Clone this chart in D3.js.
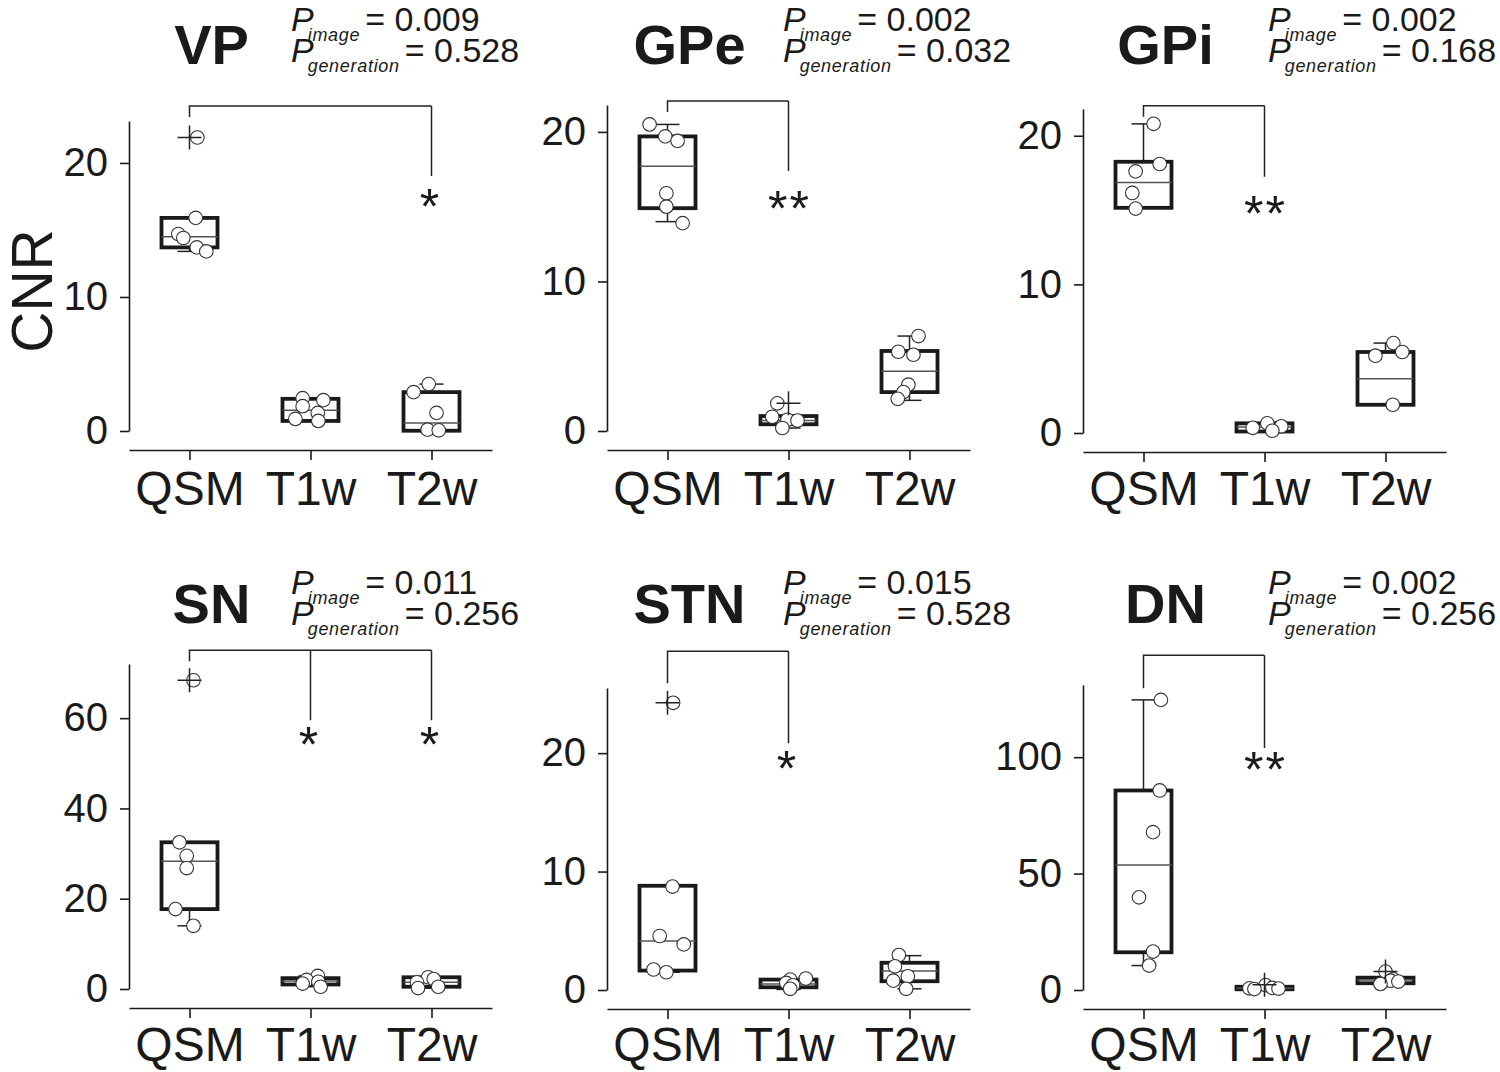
<!DOCTYPE html>
<html><head><meta charset="utf-8">
<script src="https://cdn.jsdelivr.net/npm/d3@7"></script>
<style>body{margin:0;background:#fff}</style>
</head><body><svg id="c" width="1500" height="1072"></svg>
<script>
// ---------------- DATA ----------------
const categories = ["QSM", "T1w", "T2w"];
const regions = ["VP", "GPe", "GPi", "SN", "STN", "DN"];
const pImage = ["0.009", "0.002", "0.002", "0.011", "0.015", "0.002"];
const pGeneration = ["0.528", "0.032", "0.168", "0.256", "0.528", "0.256"];
const yTicks = [[0, 10, 20], [0, 10, 20], [0, 10, 20], [0, 20, 40, 60], [0, 10, 20], [0, 50, 100]];
const yMax = [23.13, 21.8, 21.8, 72, 25.5, 131];

// box statistics per category: [whiskerLow, q1, median, q3, whiskerHigh]
const boxVP  = [[13.4, 13.7, 14.5, 15.9, 15.9], [0.75, 0.75, 1.55, 2.4, 2.4], [0.02, 0.02, 0.6, 2.9, 3.5]];
const boxGPe = [[14.0, 14.9, 17.7, 19.7, 20.5], [0.2, 0.45, 0.7, 1.0, 1.0], [2.05, 2.6, 4.0, 5.35, 6.35]];
const boxGPi = [[15.15, 15.15, 16.85, 18.25, 20.8], [0.1, 0.1, 0.4, 0.65, 0.65], [1.9, 1.9, 3.65, 5.45, 6.05]];
const boxSN  = [[14.0, 17.7, 28.3, 32.5, 32.5], [0.5, 1.0, 1.8, 2.4, 2.9], [0.2, 0.5, 1.5, 2.6, 2.6]];
const boxSTN = [[1.5, 1.64, 4.14, 8.8, 8.8], [0.05, 0.23, 0.5, 0.88, 0.88], [0.1, 0.74, 1.6, 2.3, 2.9]];
const boxDN  = [[10.5, 16.2, 53.7, 85.7, 124.6], [0.3, 0.3, 0.8, 1.4, 1.4], [2.6, 2.9, 4.3, 5.3, 5.3]];

// outliers ("+" markers)
const outVP  = [[21.9], [], []];
const outGPe = [[], [1.85], []];
const outGPi = [[], [], []];
const outSN  = [[68.4], [], []];
const outSTN = [[24.25], [], []];
const outDN  = [[], [2.3], [7.9]];

// individual subjects (values) and their horizontal jitter (fraction of box width)
const ptsVP  = [[21.9, 15.9, 14.7, 14.4, 13.7, 13.4], [2.45, 2.3, 1.85, 1.35, 0.9, 0.75], [3.5, 2.9, 1.35, 0.1, 0.05]];
const jitVP  = [[0.14, 0.11, -0.2, -0.11, 0.13, 0.3], [-0.14, 0.23, -0.14, 0.13, -0.27, 0.14], [-0.05, -0.32, 0.09, -0.07, 0.13]];
const ptsGPe = [[20.5, 19.7, 19.4, 15.9, 15.0, 13.9], [1.85, 0.95, 0.75, 0.7, 0.2], [6.35, 5.3, 5.1, 3.1, 2.6, 2.15]];
const jitGPe = [[-0.32, -0.04, 0.18, -0.02, -0.02, 0.27], [-0.2, -0.29, -0.02, 0.16, -0.11], [0.16, -0.2, 0.07, -0.02, -0.11, -0.21]];
const ptsGPi = [[20.8, 18.1, 17.6, 16.15, 15.1], [0.65, 0.45, 0.35, 0.15], [6.05, 5.45, 5.2, 1.9]];
const jitGPi = [[0.18, 0.29, -0.14, -0.2, -0.14], [0.05, 0.3, -0.21, 0.14], [0.14, 0.3, -0.18, 0.13]];
const ptsSN  = [[68.4, 32.5, 29.5, 26.8, 17.7, 14.0], [2.9, 2.0, 1.6, 1.2, 0.5], [2.6, 2.2, 1.5, 0.5, 0.2]];
const jitSN  = [[0.07, -0.18, -0.05, -0.05, -0.25, 0.07], [0.13, -0.07, 0.14, -0.14, 0.18], [-0.06, 0.04, -0.26, 0.12, -0.24]];
const ptsSTN = [[24.25, 8.73, 4.56, 3.85, 1.73, 1.5], [0.97, 0.88, 0.6, 0.4, 0.1], [2.95, 2.0, 1.16, 0.79, 0.1]];
const jitSTN = [[0.1, 0.09, -0.14, 0.29, -0.25, -0.02], [0.31, 0.03, -0.04, 0.08, 0.03], [-0.19, -0.26, -0.03, -0.29, -0.06]];
const ptsDN  = [[124.6, 85.7, 67.8, 39.8, 16.5, 10.5], [2.1, 0.9, 0.7, 0.6, 0.4], [7.9, 4.6, 4.0, 3.6, 2.6]];
const jitDN  = [[0.31, 0.29, 0.17, -0.08, 0.17, 0.1], [0.02, 0.14, -0.27, 0.25, -0.18], [0, 0.14, 0.09, 0.23, -0.09]];

// significance brackets: target categories, bracket top, left leg end, right leg end, star level (data units)
const bracketTargets = [["T2w"], ["T1w"], ["T1w"], ["T1w", "T2w"], ["T1w"], ["T1w"]];
const bracketLevels = [[24.25, 23.43, 19.03, 17.24], [22.07, 21.34, 17.39, 15.32], [22.02, 21.28, 17.24, 15.22],
                       [75.05, 72.6, 59.55, 55.57], [28.6, 25.9, 20.84, 19.24], [143.8, 129.6, 103.9, 97.4]];
const bracketStars = [["*"], ["**"], ["**"], ["*", "*"], ["*"], ["**"]];

const boxes = [boxVP, boxGPe, boxGPi, boxSN, boxSTN, boxDN];
const outs = [outVP, outGPe, outGPi, outSN, outSTN, outDN];
const pts = [ptsVP, ptsGPe, ptsGPi, ptsSN, ptsSTN, ptsDN];
const jits = [jitVP, jitGPe, jitGPi, jitSN, jitSTN, jitDN];

// ---------------- LAYOUT ----------------
const FONT = "'Liberation Sans', Arial, Helvetica, sans-serif";
const INK = "#1a1a1a";
const colX0 = [129, 607, 1083];
const panelY0 = [431, 431, 433, 989, 990, 990];
const panelYTop = [121, 105, 109, 664, 688, 685];
const plotW = 363, boxW = 56, capW = 24, ptR = 6.8, plusH = 12;
const titleBase = [64, 623];
const pX = [291, 783, 1268];
const pRowOff = [0, 563];
const xLabelPad = [11, 9];

const svg = d3.select("#c");

svg.append("text")
  .attr("transform", "translate(52,291) rotate(-90)")
  .attr("text-anchor", "middle")
  .attr("font-family", FONT).attr("font-size", 57).attr("fill", INK)
  .text("CNR");

regions.forEach((reg, i) => {
  const col = i % 3, row = Math.floor(i / 3);
  const x0 = colX0[col], y0 = panelY0[i], yTop = panelYTop[i];
  const g = svg.append("g");
  const x = d3.scalePoint().domain(categories).range([x0, x0 + plotW]).padding(0.5);
  const y = d3.scaleLinear().domain([0, yMax[i]]).range([y0, yTop]);

  const ya = g.append("g").attr("transform", `translate(${x0},0)`)
    .call(d3.axisLeft(y).tickValues(yTicks[i]).tickSize(9).tickSizeOuter(0).tickPadding(12));
  ya.attr("font-family", FONT).attr("font-size", 40).attr("color", INK);
  ya.selectAll("path,line").attr("stroke-width", 1.6);

  const xa = g.append("g").attr("transform", `translate(0,${y0 + 19})`)
    .call(d3.axisBottom(x).tickSize(10).tickSizeOuter(0).tickPadding(xLabelPad[row] - (y0 - panelY0[row * 3])));
  xa.attr("font-family", FONT).attr("font-size", 48).attr("color", INK);
  xa.selectAll("path,line").attr("stroke-width", 1.6);

  // boxes
  categories.forEach((c, ci) => {
    const [wl, q1, md, q3, wh] = boxes[i][ci];
    const cx = x(c);
    const wg = g.append("g").attr("stroke", "#222").attr("stroke-width", 1.5);
    if (wh > q3) {
      wg.append("line").attr("x1", cx).attr("x2", cx).attr("y1", y(q3)).attr("y2", y(wh));
      wg.append("line").attr("x1", cx - capW / 2).attr("x2", cx + capW / 2).attr("y1", y(wh)).attr("y2", y(wh));
    }
    if (wl < q1) {
      wg.append("line").attr("x1", cx).attr("x2", cx).attr("y1", y(q1)).attr("y2", y(wl));
      wg.append("line").attr("x1", cx - capW / 2).attr("x2", cx + capW / 2).attr("y1", y(wl)).attr("y2", y(wl));
    }
    g.append("rect").attr("x", cx - boxW / 2).attr("y", y(q3)).attr("width", boxW)
      .attr("height", Math.max(0.5, y(q1) - y(q3)))
      .attr("fill", "none").attr("stroke", INK).attr("stroke-width", 3.8);
    g.append("line").attr("x1", cx - boxW / 2).attr("x2", cx + boxW / 2).attr("y1", y(md)).attr("y2", y(md))
      .attr("stroke", "#555").attr("stroke-width", 1.5);
  });
  // points
  categories.forEach((c, ci) => {
    const cx = x(c);
    g.append("g").selectAll("circle").data(pts[i][ci]).join("circle")
      .attr("cx", (d, k) => cx + jits[i][ci][k] * boxW)
      .attr("cy", d => y(d)).attr("r", ptR)
      .attr("fill", "#fff").attr("stroke", "#333").attr("stroke-width", 1.1);
  });
  // outliers
  categories.forEach((c, ci) => {
    const cx = x(c);
    outs[i][ci].forEach(o => {
      g.append("path").attr("d", `M${cx - plusH},${y(o)}H${cx + plusH}M${cx},${y(o) - plusH}V${y(o) + plusH}`)
        .attr("stroke", "#222").attr("stroke-width", 1.5).attr("fill", "none");
    });
  });
  // brackets
  const [bTop, bLeft, bRight, bStar] = bracketLevels[i];
  const targets = bracketTargets[i];
  const xl = x("QSM"), xr = x(targets[targets.length - 1]);
  let d = `M${xl},${y(bLeft)}V${y(bTop)}H${xr}`;
  targets.forEach(t => { d += `M${x(t)},${y(bTop)}V${y(bRight)}`; });
  g.append("path").attr("d", d).attr("fill", "none").attr("stroke", "#222").attr("stroke-width", 1.5);
  targets.forEach((t, ti) => {
    const s = bracketStars[i][ti];
    g.append("text").attr("x", x(t) + (s.length > 1 ? 1 : -2)).attr("y", y(bStar) + 24)
      .attr("text-anchor", "middle").attr("font-family", FONT).attr("font-size", 50)
      .attr("letter-spacing", s.length > 1 ? 2 : 0).attr("fill", INK).text(s);
  });

  // title
  g.append("text").attr("x", x("QSM") + 22).attr("y", titleBase[row])
    .attr("text-anchor", "middle").attr("font-family", FONT).attr("font-weight", "bold")
    .attr("font-size", 56).attr("fill", INK).text(reg);

  // P values
  const lines = [["image", pImage[i]], ["generation", pGeneration[i]]];
  lines.forEach((ln, li) => {
    const base = 31 + li * 31 + pRowOff[row];
    const t = g.append("text").attr("x", pX[col]).attr("y", base)
      .attr("font-family", FONT).attr("font-size", 34).attr("fill", INK);
    t.append("tspan").attr("font-style", "italic").text("P");
    t.append("tspan").attr("dx", -6).attr("dy", 10).attr("font-size", 18).attr("font-style", "italic")
      .attr("letter-spacing", 0.7).text(ln[0]);
    t.append("tspan").attr("dx", 5).attr("dy", -10).text("= " + ln[1]);
  });
});
</script>
</body></html>
